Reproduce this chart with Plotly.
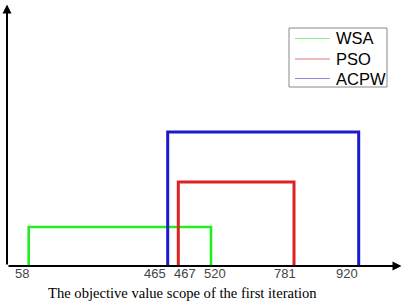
import plotly.graph_objects as go

# ---- data ----
algorithms = ["WSA", "PSO", "ACPW"]
range_low = [58, 467, 465]
range_high = [520, 781, 920]
box_height = [39, 84, 134]          # relative (schematic) height of each scope box
colors = ["#22ee22", "#dd2222", "#1a1acc"]
legend_colors = ["#88ee88", "#e07777", "#8888dd"]

tick_values = [58, 465, 467, 520, 781, 920]
tick_labels = ["58", "465", "467", "520", "781", "920"]
# schematic (non-linear) position of each value on the drawn axis
edge_pos = {58: 21.7, 465: 160.7, 467: 171.3, 520: 204, 781: 287, 920: 351.7}
label_pos = {58: 14.7, 465: 148.3, 467: 178.3, 520: 208, 781: 277.7, 920: 339.7}

x_title = "The objective value scope of the first iteration"

W, H = 408, 304
L, R, T, B = 7, 8, 5, 38
PW, PH = W - L - R, H - T - B

def px(x):
    return (x - L) / PW

def py(y):
    return (H - B - y) / PH

fig = go.Figure()
for name, lo, hi, h, c in zip(algorithms, range_low, range_high, box_height, colors):
    x0, x1 = edge_pos[lo], edge_pos[hi]
    fig.add_trace(go.Scatter(
        x=[x0, x0, x1, x1], y=[0, h, h, 0], mode="lines",
        line=dict(color=c, width=3 if name != "WSA" else 2.6),
        name=name, showlegend=False, hoverinfo="skip", cliponaxis=False))

shapes = []
annotations = []

# axes with arrows
annotations.append(dict(x=PW + 1.5, y=0, ax=0, ay=0, xref="x", yref="y", axref="x", ayref="y",
                        text="", showarrow=True, arrowhead=2, arrowsize=0.9, arrowwidth=2,
                        arrowcolor="black"))
annotations.append(dict(x=0, y=PH + 0.5, ax=0, ay=0, xref="x", yref="y", axref="x", ayref="y",
                        text="", showarrow=True, arrowhead=2, arrowsize=0.9, arrowwidth=2,
                        arrowcolor="black"))

# tick labels
for v, t in zip(tick_values, tick_labels):
    annotations.append(dict(x=label_pos[v], y=py(273.5), xref="x", yref="paper", text=t,
                            showarrow=False, xanchor="center", yanchor="middle",
                            font=dict(family="Liberation Sans, Arial", size=13, color="#444444")))

# x title
annotations.append(dict(x=px(182.5), y=py(292.5), xref="paper", yref="paper", text=x_title,
                        showarrow=False, xanchor="center", yanchor="middle",
                        font=dict(family="Liberation Serif, Times New Roman", size=14.6, color="black")))

# legend (manual box)
shapes.append(dict(type="rect", xref="paper", yref="paper", x0=px(289), x1=px(387),
                   y0=py(87), y1=py(28), line=dict(color="#888888", width=1), fillcolor="white"))
legend_y = [38.5, 59, 78.5]
for name, lc, yy in zip(algorithms, legend_colors, legend_y):
    shapes.append(dict(type="line", xref="paper", yref="paper", x0=px(295), x1=px(330),
                       y0=py(yy), y1=py(yy), line=dict(color=lc, width=1.2)))
    annotations.append(dict(x=px(334), y=py(yy), xref="paper", yref="paper", text=name,
                            showarrow=False, xanchor="left", yanchor="middle",
                            font=dict(family="Liberation Sans, Arial", size=16.5, color="black")))

fig.update_layout(
    width=W, height=H,
    margin=dict(l=L, r=R, t=T, b=B, pad=0),
    paper_bgcolor="white", plot_bgcolor="white",
    xaxis=dict(range=[0, PW], visible=False, fixedrange=True),
    yaxis=dict(range=[0, PH], visible=False, fixedrange=True),
    shapes=shapes, annotations=annotations, showlegend=False,
)

fig.write_html("out.html", config={"displayModeBar": False},
               post_script="document.body.style.margin='0';")
